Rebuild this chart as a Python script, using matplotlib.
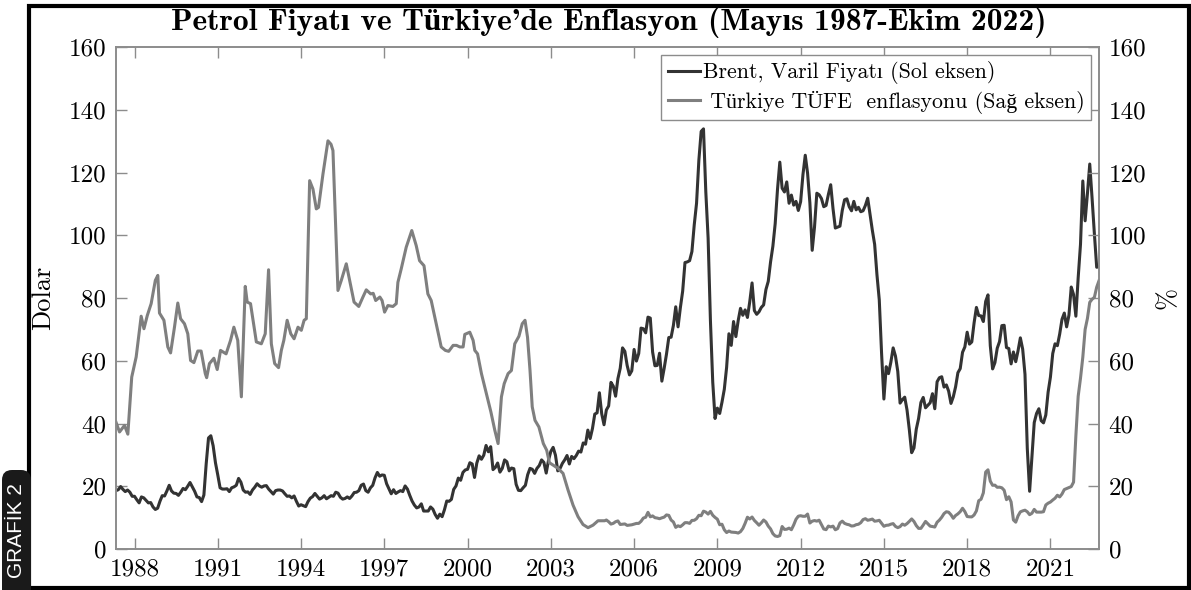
import numpy as np
import pandas as pd
import matplotlib
matplotlib.use("Agg")
import matplotlib.pyplot as plt
from matplotlib.patches import Rectangle, FancyBboxPatch

# Brent, monthly average price (USD/barrel), May 1987 - Oct 2022
brent = [
    18.6, 18.9, 19.9, 19.0, 18.3, 18.8, 18.1, 16.8,                          # 1987
    16.8, 15.7, 14.7, 16.6, 16.3, 15.5, 14.7, 14.8, 13.4, 12.6, 13.0, 15.2,  # 1988
    17.0, 16.9, 18.5, 20.3, 18.5, 17.8, 17.7, 17.1, 18.1, 19.3, 18.9, 20.0,  # 1989
    21.2, 19.8, 18.4, 16.6, 16.4, 15.1, 17.2, 27.2, 35.4, 36.1, 32.9, 27.5,  # 1990
    23.6, 19.5, 19.1, 19.1, 19.2, 18.3, 19.5, 19.8, 20.3, 22.5, 21.3, 18.8,  # 1991
    18.1, 18.2, 17.4, 18.8, 19.7, 20.8, 20.1, 19.7, 20.1, 20.2, 19.1, 18.3,  # 1992
    17.5, 18.6, 18.8, 18.8, 18.5, 17.6, 16.8, 16.9, 16.3, 16.9, 15.2, 13.7,  # 1993
    14.1, 13.8, 13.5, 15.1, 16.2, 16.7, 17.7, 16.8, 15.9, 16.3, 17.0, 16.0,  # 1994
    16.5, 17.0, 16.8, 18.1, 17.8, 16.5, 15.9, 16.1, 16.6, 16.1, 16.9, 18.0,  # 1995
    18.1, 18.6, 20.3, 20.7, 18.6, 18.1, 19.5, 20.3, 22.7, 24.4, 23.2, 23.6,  # 1996
    23.5, 20.8, 19.2, 17.6, 18.9, 17.7, 18.2, 18.6, 18.3, 20.1, 19.1, 17.1,  # 1997
    15.3, 14.0, 13.1, 13.4, 14.4, 12.1, 12.1, 12.1, 13.4, 12.7, 11.0, 9.8,   # 1998
    11.1, 10.3, 12.5, 15.3, 15.2, 15.8, 19.0, 20.1, 22.6, 21.9, 24.4, 25.2,  # 1999
    25.4, 27.5, 27.1, 22.8, 27.4, 29.7, 28.6, 29.9, 33.0, 31.0, 32.6, 25.3,  # 2000
    26.0, 27.4, 24.5, 25.7, 28.4, 27.8, 24.9, 25.8, 25.6, 20.6, 18.7, 18.6,  # 2001
    19.5, 20.3, 23.7, 25.7, 25.4, 24.1, 25.7, 26.6, 28.4, 27.6, 24.2, 28.3,  # 2002
    31.1, 32.4, 29.9, 24.9, 25.7, 27.3, 28.4, 29.8, 27.1, 29.5, 28.8, 29.8,  # 2003
    31.2, 30.9, 33.8, 33.4, 37.9, 35.2, 38.4, 43.0, 43.4, 49.8, 43.1, 39.6,  # 2004
    44.3, 45.6, 53.1, 51.9, 48.7, 54.3, 57.6, 64.1, 63.0, 58.5, 55.5, 56.8,  # 2005
    63.6, 59.9, 62.3, 70.4, 70.2, 68.9, 73.9, 73.6, 62.8, 58.4, 58.5, 62.4,  # 2006
    53.5, 57.6, 62.1, 67.4, 67.5, 71.3, 77.2, 70.8, 76.9, 82.2, 91.3, 91.5,  # 2007
    91.9, 94.8, 103.3, 110.2, 123.9, 133.1, 133.9, 113.9, 99.1, 72.8, 53.2, 41.6,  # 2008
    44.9, 43.2, 46.8, 50.9, 57.9, 68.6, 64.9, 72.5, 67.7, 72.8, 76.7, 74.5,  # 2009
    76.2, 73.8, 78.8, 84.8, 76.0, 74.8, 75.6, 77.0, 77.8, 82.7, 85.3, 91.5,  # 2010
    96.5, 103.7, 114.6, 123.3, 115.0, 113.8, 117.0, 110.2, 112.8, 109.6, 110.8, 107.9,  # 2011
    110.7, 119.3, 125.5, 119.8, 110.3, 95.2, 102.6, 113.4, 112.9, 111.7, 109.1, 109.5,  # 2012
    113.0, 116.1, 108.5, 102.3, 102.6, 102.9, 107.9, 111.3, 111.6, 109.1, 107.8, 110.8,  # 2013
    108.1, 108.9, 107.5, 107.8, 109.5, 111.8, 106.8, 101.6, 97.1, 87.4, 79.4, 62.3,  # 2014
    47.8, 58.1, 55.9, 59.5, 64.1, 61.5, 56.6, 46.5, 47.6, 48.4, 44.3, 38.0,  # 2015
    30.7, 32.2, 38.2, 41.6, 46.7, 48.3, 45.0, 45.8, 46.6, 49.5, 44.7, 53.3,  # 2016
    54.6, 54.9, 51.6, 52.3, 50.3, 46.4, 48.5, 51.7, 56.2, 57.5, 62.7, 64.4,  # 2017
    69.1, 65.3, 66.0, 72.1, 77.0, 74.4, 74.3, 72.5, 78.9, 81.0, 64.8, 57.4,  # 2018
    59.4, 64.0, 66.1, 71.2, 71.3, 64.2, 63.9, 59.0, 62.8, 59.7, 63.2, 67.3,  # 2019
    63.7, 55.7, 32.0, 18.4, 29.4, 40.3, 43.2, 44.7, 40.9, 40.2, 42.7, 50.0,  # 2020
    54.8, 62.3, 65.4, 64.8, 68.5, 73.2, 75.2, 70.8, 74.5, 83.5, 81.1, 74.2,  # 2021
    86.5, 97.1, 117.3, 104.6, 113.3, 122.7, 111.9, 100.5, 89.8, 90.0,        # 2022
]

# Turkey CPI annual inflation (%), May 1987 - Dec 2004
cpi_early_year = [
    1987.33, 1987.46, 1987.64, 1987.76, 1987.90, 1988.06, 1988.24, 1988.34, 1988.46,
    1988.60, 1988.75, 1988.84, 1988.90, 1989.06, 1989.20, 1989.30, 1989.44, 1989.56,
    1989.66, 1989.80, 1989.92, 1990.02, 1990.14, 1990.28, 1990.40, 1990.55, 1990.60,
    1990.70, 1990.86, 1990.98, 1991.10, 1991.30, 1991.46, 1991.58, 1991.72, 1991.85,
    1991.99, 1992.06, 1992.18, 1992.39, 1992.57, 1992.71, 1992.83, 1992.93, 1993.05,
    1993.19, 1993.29, 1993.38, 1993.50, 1993.63, 1993.75, 1993.89, 1994.01, 1994.11,
    1994.19, 1994.31, 1994.43, 1994.55, 1994.63, 1994.79, 1994.97, 1995.08, 1995.15,
    1995.33, 1995.45, 1995.63, 1995.75, 1995.91, 1996.08, 1996.23, 1996.35, 1996.51,
    1996.60, 1996.69, 1996.84, 1996.92, 1997.01, 1997.13, 1997.31, 1997.43, 1997.49,
    1997.61, 1997.79, 1997.99, 1998.15, 1998.27, 1998.43, 1998.57, 1998.69, 1998.87,
    1999.05, 1999.20, 1999.32, 1999.48, 1999.60, 1999.72, 1999.84, 1999.90, 2000.08,
    2000.20, 2000.26, 2000.36, 2000.50, 2000.68, 2000.84, 2000.98, 2001.10, 2001.22,
    2001.32, 2001.46, 2001.58, 2001.70, 2001.85, 2001.97, 2002.07, 2002.16, 2002.25,
    2002.33, 2002.43, 2002.57, 2002.73, 2002.85, 2002.95, 2003.26, 2003.44, 2003.62,
    2003.80, 2003.98, 2004.16, 2004.34, 2004.52, 2004.70, 2004.94,
]
cpi_early_rate = [
    40.5, 37.3, 39.4, 36.6, 54.8, 61.2, 74.2, 70.2, 74.4,
    78.2, 85.6, 87.2, 75.2, 72.9, 64.4, 62.5, 70.7, 78.4,
    73.4, 71.8, 68.6, 60.1, 59.4, 63.1, 63.1, 55.9, 54.6,
    59.1, 60.8, 57.2, 63.3, 62.2, 66.5, 70.7, 66.5, 48.5,
    83.7, 78.7, 78.2, 66.0, 65.4, 68.6, 89.0, 65.4, 59.1,
    57.8, 63.3, 66.5, 72.9, 68.6, 67.0, 70.7, 69.7, 72.9,
    73.4, 117.4, 114.7, 108.4, 108.9, 119.5, 130.1, 129.0, 127.0,
    82.4, 85.6, 90.9, 85.6, 78.7, 77.3, 80.3, 82.6, 81.3,
    81.5, 79.2, 80.3, 79.2, 75.5, 77.6, 77.3, 78.2, 85.0,
    89.3, 96.2, 101.5, 96.7, 91.9, 90.3, 81.3, 79.2, 71.8,
    64.4, 63.3, 63.0, 64.9, 64.9, 64.4, 64.4, 68.4, 69.1,
    66.5, 63.3, 62.2, 55.9, 49.5, 43.7, 37.9, 33.6, 48.5,
    52.7, 55.9, 56.9, 65.4, 67.8, 71.8, 72.9, 67.5, 56.9,
    45.3, 41.0, 38.9, 33.6, 31.5, 27.5, 25.7, 24.1, 18.8,
    14.0, 10.3, 7.8, 6.8, 7.6, 9.0, 9.0,
]

# Turkey CPI annual inflation (%), monthly, Jan 2005 - Oct 2022
cpi_late = [
    9.24, 8.69, 7.94, 8.18, 8.70, 8.95, 7.82, 7.91, 7.99, 7.52, 7.61, 7.72,
    7.93, 8.15, 8.16, 8.83, 9.86, 10.12, 11.69, 10.26, 10.55, 9.98, 9.86, 9.65,
    9.93, 10.16, 10.86, 10.72, 9.23, 8.60, 6.90, 7.39, 7.12, 7.70, 8.40, 8.39,
    8.17, 9.10, 9.15, 9.66, 10.74, 10.61, 12.06, 11.77, 11.13, 11.99, 10.76, 10.06,
    9.50, 7.73, 7.89, 6.13, 5.24, 5.73, 5.39, 5.33, 5.27, 5.08, 5.53, 6.53,
    8.19, 10.13, 9.56, 10.19, 9.10, 8.37, 7.58, 8.33, 9.24, 8.62, 7.29, 6.40,
    4.90, 4.16, 3.99, 4.26, 7.17, 6.24, 6.31, 6.65, 6.15, 7.66, 9.48, 10.45,
    10.61, 10.43, 10.43, 11.14, 8.28, 8.87, 9.07, 8.88, 9.19, 7.80, 6.37, 6.16,
    7.31, 7.03, 7.29, 6.13, 6.51, 8.30, 8.88, 8.17, 7.88, 7.71, 7.32, 7.40,
    7.75, 7.89, 8.39, 9.38, 9.66, 9.16, 9.32, 9.54, 8.86, 8.96, 9.15, 8.17,
    7.24, 7.55, 7.61, 7.91, 8.09, 7.20, 6.81, 7.14, 7.95, 7.58, 8.10, 8.81,
    9.58, 8.78, 7.46, 6.57, 6.58, 7.64, 8.79, 8.05, 7.28, 7.16, 7.00, 8.53,
    9.22, 10.13, 11.29, 11.87, 11.72, 10.90, 9.79, 10.68, 11.20, 11.90, 12.98, 11.92,
    10.35, 10.26, 10.23, 10.85, 12.15, 15.39, 15.85, 17.90, 24.52, 25.24, 21.62, 20.30,
    20.35, 19.67, 19.71, 19.50, 18.71, 15.72, 16.65, 15.01, 9.26, 8.55, 10.56, 11.84,
    12.15, 12.37, 11.86, 10.94, 11.39, 12.62, 11.76, 11.77, 11.75, 11.89, 14.03, 14.60,
    14.97, 15.61, 16.19, 17.14, 16.59, 17.53, 18.95, 19.25, 19.58, 19.89, 21.31, 36.08,
    48.69, 54.44, 61.14, 69.97, 73.50, 78.62, 79.60, 80.21, 83.45, 85.51,
]

year_ticks = list(range(1988, 2022, 3))
y_ticks = list(range(0, 161, 20))

plt.rcParams['axes.unicode_minus'] = False
# Computer Modern from matplotlib's own fonts, Times-like fallback for Turkish letters
serif = ['cmr10', 'Liberation Serif']
bold_serif = ['cmb10', 'Liberation Serif']

brent_dates = pd.date_range('1987-05-01', periods=len(brent), freq='MS')
brent_t = brent_dates.year + (brent_dates.month - 1) / 12
late_dates = pd.date_range('2005-01-01', periods=len(cpi_late), freq='MS')
late_t = late_dates.year + (late_dates.month - 1) / 12
cpi_t = np.concatenate([cpi_early_year, late_t])
cpi_v = np.concatenate([cpi_early_rate, cpi_late])

W, H = 1191, 590
fig = plt.figure(figsize=(W / 100, H / 100), dpi=100)
ax = fig.add_axes([116 / W, 1 - 549 / H, (1099 - 116) / W, (549 - 47) / H])
ax2 = ax.twinx()

dark = '#333333'
grey = '#7f7f7f'
l1, = ax.plot(brent_t, brent, color=dark, lw=2.2, label='Brent, Varil Fiyatı (Sol eksen)')
l2, = ax2.plot(cpi_t, cpi_v, color=grey, lw=2.2, label=' Türkiye TÜFE  enflasyonu (Sağ eksen)')

for a in (ax, ax2):
    a.set_ylim(0, 160)
    a.set_yticks(y_ticks)
    for s in a.spines.values():
        s.set_color('#8c8c8c')
        s.set_linewidth(1.2)
ax.set_xlim(brent_t[0], brent_t[-1])
ax.set_xticks(year_ticks)

ax.tick_params(axis='both', direction='in', length=8, width=1, color='#8c8c8c',
               top=True, right=False, labelsize=18, pad=7)
ax2.tick_params(axis='y', direction='in', length=8, width=1, color='#8c8c8c',
                labelsize=18, pad=7)
for lab in ax.get_xticklabels() + ax.get_yticklabels() + ax2.get_yticklabels():
    lab.set_fontfamily(serif)

ax.set_ylabel('Dolar', fontsize=19, family=serif)
ax.yaxis.set_label_coords(-0.062, 0.5)
ax2.set_ylabel('%', fontsize=19, family=serif)
ax2.yaxis.set_label_coords(1.058, 0.5)

leg = ax2.legend(handles=[l1, l2], loc='upper right', fancybox=False, framealpha=1,
                 edgecolor='#8c8c8c', prop={'family': serif, 'size': 15.75},
                 handlelength=1.5, handletextpad=0.12, borderaxespad=0.35,
                 borderpad=0.3, labelspacing=0.3)
leg.get_frame().set_linewidth(1.0)

fig.text(0.511, 1 - 22.5 / H, "Petrol Fiyatı ve Türkiye'de Enflasyon (Mayıs 1987-Ekim 2022)",
         ha='center', va='center', fontsize=22.7, family=bold_serif, weight='bold')

# outer frame and side tab
fig.patches.append(Rectangle((28.5, 2.0), 1188.5 - 28.5, 584.5 - 2.0, transform=None,
                             fill=False, edgecolor='black', lw=3.0, zorder=5))
fig.patches.append(FancyBboxPatch((2, -20), 29, 140, transform=None,
                                  boxstyle='round,pad=0,rounding_size=10',
                                  facecolor='#1a1a1a', edgecolor='none', zorder=6))
fig.text(16.5 / W, 1 - 531 / H, 'GRAFİK 2', rotation=90, ha='center', va='center',
         color='white', fontsize=15, family='Liberation Sans', zorder=7)

fig.savefig('out.png', dpi=100)
